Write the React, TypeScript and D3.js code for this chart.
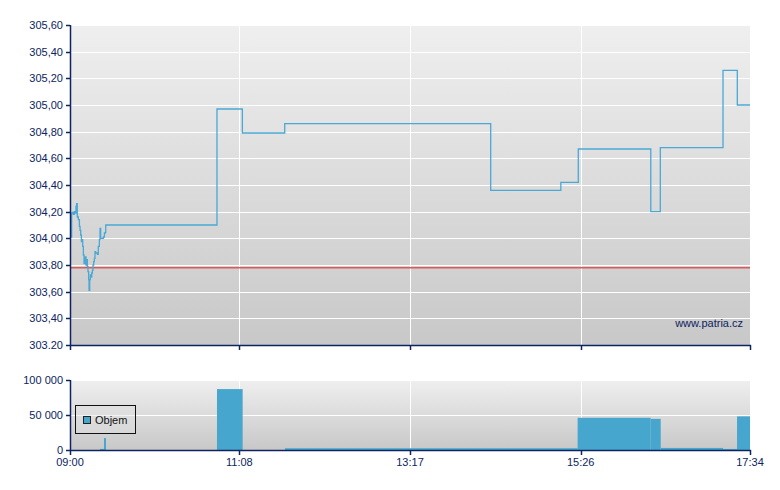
import React from "react";
import * as d3 from "d3";

// minutes since 09:00 and price
const priceMinutes = [
  0.76, 1.26, 2.0, 2.5, 3.3, 4.0, 4.5, 5.0, 5.5, 6.3, 7.1, 7.6, 8.1, 8.6, 9.1, 9.6, 10.1, 10.6, 11.1, 11.6,
  12.1, 12.6, 13.1, 13.6, 14.1, 14.4, 14.9, 15.4, 15.9, 16.4, 16.9, 17.4, 17.9, 18.4, 18.9, 19.4, 19.9, 20.7,
  21.4, 22.2, 22.7, 23.2, 23.9, 25.2, 26.0, 26.7, 27.0,
  111.1, 130.3, 162.3, 318.0, 371.0, 384.2, 439.0, 446.2, 493.6, 504.4, 514,
];
const priceValues = [
  304.01, 304.19, 304.195, 304.18, 304.2, 304.19, 304.24, 304.26, 304.16, 304.14, 304.09, 304.06, 304.025,
  303.975, 303.99, 303.94, 303.875, 303.81, 303.84, 303.86, 303.8, 303.84, 303.79, 303.75, 303.69, 303.61,
  303.69, 303.725, 303.71, 303.74, 303.76, 303.8, 303.825, 303.85, 303.9, 303.89, 303.89, 303.88, 303.94,
  303.99, 304.075, 304.0, 304.0, 304.01, 304.04, 304.045, 304.1,
  304.97, 304.79, 304.86, 304.36, 304.42, 304.67, 304.2, 304.68, 305.26, 305.0, 305.0,
];
const previousClose = 303.78;

const volStart = [22.7, 25.7, 111.1, 162.5, 383.7, 438.9, 446.5, 493.6, 504.2];
const volEnd = [25.7, 27.2, 130.5, 383.7, 438.9, 446.5, 493.6, 504.2, 514];
const volValue = [1500, 17000, 87000, 2500, 46000, 44500, 2900, 1500, 48000];

const priceTicks = [303.2, 303.4, 303.6, 303.8, 304.0, 304.2, 304.4, 304.6, 304.8, 305.0, 305.2, 305.4, 305.6];
const priceTickLabels = ["303.20", "303,40", "303,60", "303,80", "304,00", "304,20", "304,40", "304,60", "304,80", "305,00", "305,20", "305,40", "305,60"];
const volTicks = [0, 50000, 100000];
const volTickLabels = ["0", "50 000", "100 000"];
const timeTicks = [0, 128, 257, 386, 514];
const timeTickLabels = ["09:00", "11:08", "13:17", "15:26", "17:34"];

const NAVY = "#0c2461";
const FONT = "'Liberation Sans', Arial, sans-serif";

export default function App() {
  const x = d3.scaleLinear().domain([0, 514]).range([70, 750]);
  const yP = d3.scaleLinear().domain([303.2, 305.6]).range([345, 25]);
  const yV = d3.scaleLinear().domain([0, 100000]).range([450, 380]);

  const pts: [number, number][] = priceMinutes.map((m, i) => [m, priceValues[i]]);
  const line = d3
    .line<[number, number]>()
    .x((d) => x(d[0]))
    .y((d) => yP(d[1]))
    .curve(d3.curveStepAfter);

  const snap = (v: number) => Math.round(v) + 0.5;

  return (
    <svg width={780} height={490} style={{ position: "absolute", left: 0, top: 0, background: "#fff" }} fontFamily={FONT}>
      <defs>
        <linearGradient id="bg" x1="0" y1="0" x2="0" y2="1">
          <stop offset="0" stopColor="#efefef" />
          <stop offset="1" stopColor="#c8c8c8" />
        </linearGradient>
      </defs>

      {/* main panel */}
      <rect x={70} y={25} width={680} height={320} fill="url(#bg)" />
      {priceTicks.map((t, i) => (
        <line key={"pg" + i} x1={70} x2={750} y1={snap(yP(t))} y2={snap(yP(t))} stroke="#fff" strokeWidth={1} />
      ))}
      {timeTicks.slice(1).map((t, i) => (
        <line key={"pv" + i} x1={snap(x(t))} x2={snap(x(t))} y1={25} y2={345} stroke="#fff" strokeWidth={1} />
      ))}
      <text x={743} y={327} textAnchor="end" fontSize={11} fill={NAVY}>www.patria.cz</text>
      <line x1={70} x2={750} y1={yP(previousClose)} y2={yP(previousClose)} stroke="#e0575a" strokeWidth={1.5} />
      <path d={line(pts) || ""} fill="none" stroke="#4aa8d4" strokeWidth={1.3} />

      {/* main axes */}
      <line x1={70.5} x2={70.5} y1={25} y2={346} stroke={NAVY} strokeWidth={1.5} />
      <line x1={70} x2={751} y1={345.5} y2={345.5} stroke={NAVY} strokeWidth={1.5} />
      {priceTicks.map((t, i) => (
        <g key={"pt" + i}>
          <line x1={66} x2={70} y1={snap(yP(t))} y2={snap(yP(t))} stroke={NAVY} strokeWidth={1.5} />
          <text x={63} y={yP(t) + 4} textAnchor="end" fontSize={11} fill={NAVY}>{priceTickLabels[i]}</text>
        </g>
      ))}
      {timeTicks.map((t, i) => (
        <line key={"mt" + i} x1={snap(x(t))} x2={snap(x(t))} y1={345} y2={350} stroke={NAVY} strokeWidth={1.5} />
      ))}

      {/* volume panel */}
      <rect x={70} y={380} width={680} height={70} fill="url(#bg)" />
      {volTicks.map((t, i) => (
        <line key={"vg" + i} x1={70} x2={750} y1={snap(yV(t))} y2={snap(yV(t))} stroke="#fff" strokeWidth={1} />
      ))}
      {timeTicks.slice(1).map((t, i) => (
        <line key={"vv" + i} x1={snap(x(t))} x2={snap(x(t))} y1={380} y2={450} stroke="#fff" strokeWidth={1} />
      ))}
      {volValue.map((v, i) => (
        <rect
          key={"vb" + i}
          x={x(volStart[i])}
          width={x(volEnd[i]) - x(volStart[i])}
          y={yV(v)}
          height={yV(0) - yV(v)}
          fill="#46a6cd"
        />
      ))}
      {/* legend */}
      <rect x={75.5} y={405.5} width={60} height={28} fill="#e0e0e0" fillOpacity={0.4} stroke="#111" strokeWidth={1} />
      <rect x={83.5} y={416.5} width={7} height={7} fill="#46a6cd" stroke="#222" strokeWidth={1} />
      <text x={95} y={424} fontSize={11} fill="#111">Objem</text>

      {/* volume axes */}
      <line x1={70.5} x2={70.5} y1={380} y2={451} stroke={NAVY} strokeWidth={1.5} />
      <line x1={70} x2={751} y1={450.5} y2={450.5} stroke={NAVY} strokeWidth={1.5} />
      {volTicks.map((t, i) => (
        <g key={"vt" + i}>
          <line x1={66} x2={70} y1={snap(yV(t))} y2={snap(yV(t))} stroke={NAVY} strokeWidth={1.5} />
          <text x={63} y={yV(t) + 4} textAnchor="end" fontSize={11} fill={NAVY}>{volTickLabels[i]}</text>
        </g>
      ))}
      {timeTicks.map((t, i) => (
        <g key={"xt" + i}>
          <line x1={snap(x(t))} x2={snap(x(t))} y1={450} y2={455} stroke={NAVY} strokeWidth={1.5} />
          <text x={x(t)} y={466} textAnchor="middle" fontSize={11} fill={NAVY}>{timeTickLabels[i]}</text>
        </g>
      ))}
    </svg>
  );
}
